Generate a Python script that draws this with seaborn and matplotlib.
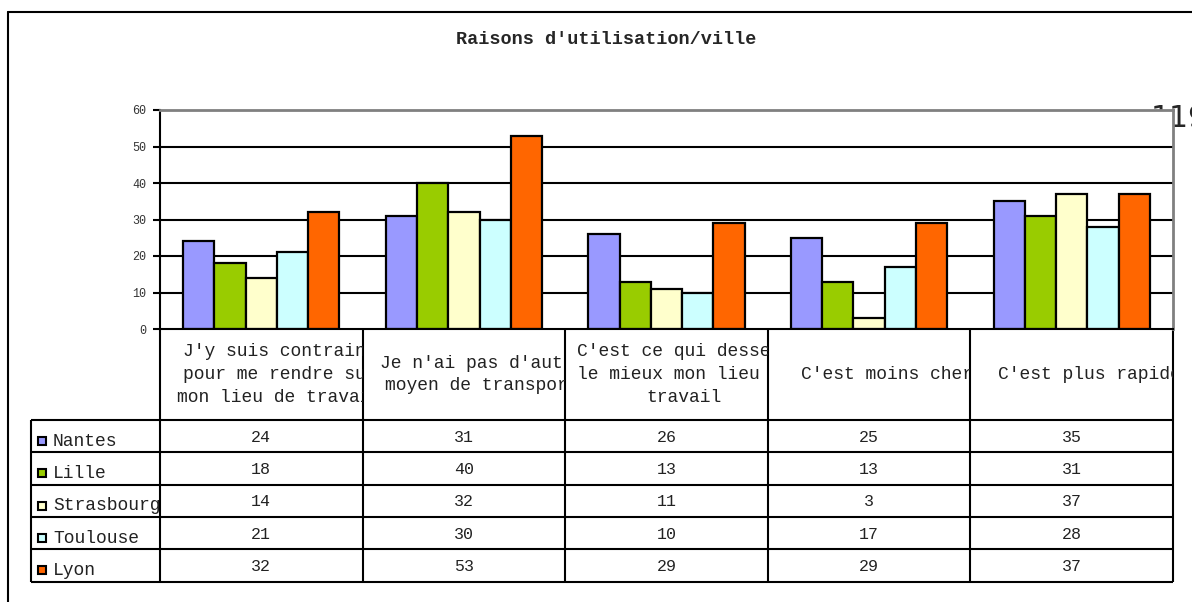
import matplotlib
matplotlib.use("Agg")
import matplotlib.pyplot as plt
from matplotlib.patches import Rectangle
import seaborn as sns
import pandas as pd

# data
categories = ["J'y suis contraint\npour me rendre sur\nmon lieu de travail",
              "Je n'ai pas d'autre\nmoyen de transport",
              "C'est ce qui dessert\nle mieux mon lieu de\ntravail",
              "C'est moins cher",
              "C'est plus rapide"]
cities = ["Nantes", "Lille", "Strasbourg", "Toulouse", "Lyon"]
nantes = [24, 31, 26, 25, 35]
lille = [18, 40, 13, 13, 31]
strasbourg = [14, 32, 11, 3, 37]
toulouse = [21, 30, 10, 17, 28]
lyon = [32, 53, 29, 29, 37]
colors = ["#9999FF", "#99CC00", "#FFFFCC", "#CCFFFF", "#FF6600"]
yticks = [0, 10, 20, 30, 40, 50, 60]
title = "Raisons d'utilisation/ville"
stray = "119"

values = [nantes, lille, strasbourg, toulouse, lyon]
rows = []
for city, vals in zip(cities, values):
    for cat, v in zip(categories, vals):
        rows.append({"cat": cat, "city": city, "val": v})
df = pd.DataFrame(rows)

sns.set_theme(style="white")
plt.rcParams['font.family'] = ['Liberation Mono', 'DejaVu Sans']

# layout in pixels
W, H = 1192, 602
PL, PR, PT, PB = 160, 1173, 110, 329
HEAD_B = 420
ROW_H = 32.3
LEG_L = 31

fig = plt.figure(figsize=(W / 100, H / 100), dpi=100)
fig.patch.set_facecolor('white')

# overlay axes in pixel coordinates for table, title, border
ax_t = fig.add_axes([0, 0, 1, 1], zorder=1)
ax_t.set_xlim(0, W)
ax_t.set_ylim(H, 0)
ax_t.axis('off')

ax = fig.add_axes([PL / W, 1 - PB / H, (PR - PL) / W, (PB - PT) / H], zorder=2)
ax.set_facecolor('white')

sns.barplot(data=df, x="cat", y="val", hue="city", order=categories, hue_order=cities,
            palette=colors, width=0.77, edgecolor='black', linewidth=1.6,
            saturation=1, legend=False, ax=ax)
ax.set_ylim(0, 60)
ax.set_xlim(-0.5, len(categories) - 0.5)
ax.set_yticks(yticks)
ax.set_yticklabels([str(t) for t in yticks], fontsize=8.5, color='#333333')
ax.set_xticks([])
ax.set_xlabel('')
ax.set_ylabel('')
ax.tick_params(axis='y', direction='out', length=5, width=1.5, color='black', pad=5, left=True)
for t in yticks[1:-1]:
    ax.axhline(t, color='black', lw=1.5, zorder=0)
ax.set_axisbelow(True)
for side in ['left', 'bottom']:
    ax.spines[side].set_color('black')
    ax.spines[side].set_linewidth(1.5)
for side in ['top', 'right']:
    ax.spines[side].set_color('#808080')
    ax.spines[side].set_linewidth(2)

# outer chart border
ax_t.plot([8, W], [12, 12], color='black', lw=1.5)
ax_t.plot([8, 8], [12, H], color='black', lw=1.5)

# title and stray text (partly hidden behind the plot area)
ax_t.text(606, 40, title, ha='center', va='center', fontsize=13.3, weight='bold')
ax_t.text(1151, 127, stray, ha='left', va='baseline', fontsize=21.5, family='DejaVu Sans')

# data table
n = len(categories)
col_w = (PR - PL) / n
xs = [PL + i * col_w for i in range(n + 1)]
row_ys = [HEAD_B + i * ROW_H for i in range(len(cities) + 1)]
bottom = row_ys[-1]

for x in xs:
    ax_t.plot([x, x], [PB, bottom], color='black', lw=1.5, solid_capstyle='butt')
ax_t.plot([LEG_L, LEG_L], [HEAD_B, bottom], color='black', lw=1.5, solid_capstyle='butt')
for y in row_ys:
    ax_t.plot([LEG_L, PR], [y, y], color='black', lw=1.5, solid_capstyle='butt')

for i, cat in enumerate(categories):
    txt = ax_t.text(xs[i] + col_w / 2 + 18, (PB + HEAD_B) / 2, cat, ha='center', va='center',
                    multialignment='center', linespacing=1.45, fontsize=13, color='#222222',
                    clip_on=True)
    clip = Rectangle((xs[i], PB), col_w, HEAD_B - PB, transform=ax_t.transData)
    txt.set_clip_path(clip)

for r, (city, vals, col) in enumerate(zip(cities, values, colors)):
    yc = row_ys[r] + ROW_H / 2
    ax_t.add_patch(Rectangle((38, yc + 1), 8, 8, facecolor=col, edgecolor='black', lw=1.5))
    ax_t.text(53, yc + 5, city, ha='left', va='center', fontsize=13, color='#222222')
    for i, v in enumerate(vals):
        ax_t.text(xs[i] + col_w / 2, yc + 1, str(v), ha='center', va='center',
                  fontsize=12, color='#222222')

fig.savefig("out.png", dpi=100, facecolor='white')
